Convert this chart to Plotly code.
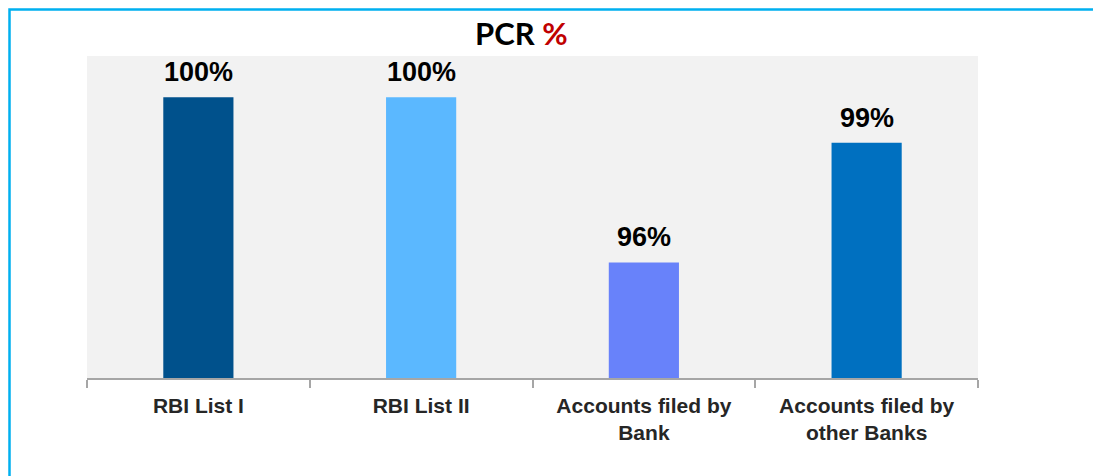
import plotly.graph_objects as go

categories = ["RBI List I", "RBI List II", "Accounts filed by<br>Bank", "Accounts filed by<br>other Banks"]
values = [100, 100, 96, 98.9]
bar_colors = ["#00518C", "#5BB8FF", "#6882FA", "#0070C0"]

W, H = 1101, 476
OFF = 8  # page body margin offset
PL, PR, PT, PB = 87, 978, 56, 378  # plot area in page pixels
L = PL - OFF
T = PT - OFF
pw = PR - PL
ph = PB - PT
R = W - L - pw
B = H - T - ph

def px_x(X):
    return (X - PL) / pw

def px_y(Y):
    return (PB - Y) / ph

fig = go.Figure()
fig.add_trace(go.Bar(
    x=categories, y=values, width=0.315,
    marker=dict(color=bar_colors, line=dict(width=0)),
    hoverinfo="skip",
))

for c, v in zip(categories, values):
    fig.add_annotation(
        x=c, y=v, xref="x", yref="y", text=f"{v:.0f}%", showarrow=False,
        yanchor="middle", yshift=25,
        font=dict(family="Liberation Sans, Arial", size=27, color="#000000", weight="bold"),
    )

fig.add_annotation(
    xref="paper", yref="paper", x=px_x(521), y=px_y(33), xanchor="center", yanchor="middle",
    text="PCR <span style='color:#C00000'>%</span>", showarrow=False,
    font=dict(family="Lato, Open Sans", size=31, color="#000000", weight="bold"),
)

# cyan frame (as close to the top-left edge as the page allows)
fig.add_shape(type="rect", xref="paper", yref="paper",
              x0=px_x(OFF + 1.5), x1=px_x(1140), y0=px_y(520), y1=px_y(OFF + 1.5),
              line=dict(color="#00B0F0", width=2.5), fillcolor="rgba(0,0,0,0)", layer="above")

fig.update_layout(
    width=W, height=H,
    margin=dict(l=L, r=R, t=T, b=B, pad=0),
    paper_bgcolor="#FFFFFF", plot_bgcolor="#F2F2F2",
    showlegend=False,
    xaxis=dict(
        showline=True, linecolor="#A6A6A6", linewidth=1.5,
        ticks="outside", tickson="boundaries", ticklen=8, tickcolor="#A6A6A6", tickwidth=1.5,
        ticklabelstandoff=8,
        tickfont=dict(family="Liberation Sans, Arial", size=21, color="#262626", weight="bold"),
        showgrid=False, zeroline=False, fixedrange=True,
    ),
    yaxis=dict(range=[93.2, 101.0], visible=False, showgrid=False, zeroline=False, fixedrange=True),
)

fig.write_html("out.html")
